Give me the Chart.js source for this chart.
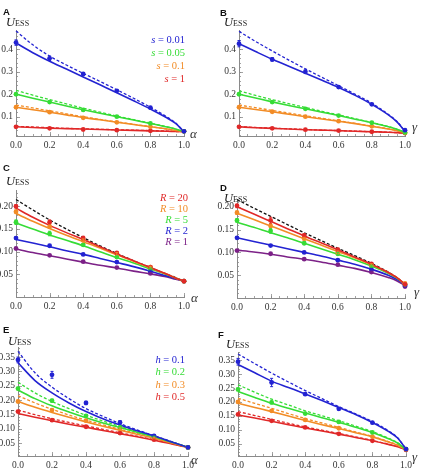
<!DOCTYPE html>
<html>
<head>
<meta charset="utf-8">
<script src="https://cdn.jsdelivr.net/npm/chart.js@4.4.1/dist/chart.umd.min.js"></script>
<style>
  body { margin: 0; background: #fff; width: 426px; height: 473px; position: relative; overflow: hidden; }
  canvas { position: absolute; }
  .t { position: absolute; white-space: nowrap; line-height: 1; font-family: 'Liberation Serif', serif; color: #222; }
  .tag { font: bold 9.5px 'Liberation Sans', Arial, sans-serif; color: #111; }
  .u { font-size: 12.5px; font-style: italic; }
  .u span { font-style: normal; font-size: 8px; letter-spacing: 0.2px; }
  .v { font-size: 13px; font-style: italic; color: #333; }
  .leg { position: absolute; text-align: right; font-family: 'Liberation Serif', serif; font-size: 10.5px; white-space: nowrap; }
</style>
</head>
<body>
<canvas id="cA" width="213" height="158" style="left:0;top:0"></canvas>
<canvas id="cB" width="213" height="158" style="left:213px;top:0"></canvas>
<canvas id="cC" width="213" height="158" style="left:0;top:158px"></canvas>
<canvas id="cD" width="213" height="158" style="left:213px;top:158px"></canvas>
<canvas id="cE" width="213" height="157" style="left:0;top:316px"></canvas>
<canvas id="cF" width="213" height="157" style="left:213px;top:316px"></canvas>

<div class="t tag" style="left:3px;top:6px">A</div>
<div class="t tag" style="left:220px;top:7px">B</div>
<div class="t tag" style="left:3px;top:162px">C</div>
<div class="t tag" style="left:220px;top:182px">D</div>
<div class="t tag" style="left:3px;top:324px">E</div>
<div class="t tag" style="left:218px;top:329px">F</div>

<div class="t u" style="left:6px;top:16px">U<span>ESS</span></div>
<div class="t u" style="left:224px;top:16px">U<span>ESS</span></div>
<div class="t u" style="left:6px;top:175px">U<span>ESS</span></div>
<div class="t u" style="left:224px;top:192px">U<span>ESS</span></div>
<div class="t u" style="left:8px;top:335px">U<span>ESS</span></div>
<div class="t u" style="left:226px;top:338px">U<span>ESS</span></div>

<div class="t v" style="left:190px;top:127px">α</div>
<div class="t v" style="left:412px;top:120px">γ</div>
<div class="t v" style="left:191px;top:291px">α</div>
<div class="t v" style="left:414px;top:285px">γ</div>
<div class="t v" style="left:191px;top:453px">α</div>
<div class="t v" style="left:412px;top:450px">γ</div>

<div class="leg" id="legA" style="right:241px;top:33px;line-height:13px"></div>
<div class="leg" id="legC" style="right:238px;top:192px;line-height:11px"></div>
<div class="leg" id="legE" style="right:241px;top:354px;line-height:12.3px"></div>

<script>
'use strict';
// ---------- data ----------
const xCurve = [0, 0.1, 0.2, 0.3, 0.4, 0.5, 0.6, 0.7, 0.8, 0.9, 0.95, 1];
const xDots  = [0, 0.2, 0.4, 0.6, 0.8, 1];
const xTickVals = [0, 0.2, 0.4, 0.6, 0.8, 1];
const yTicksAB = [0.1, 0.2, 0.3, 0.4];
const yTicksCD = [0.05, 0.10, 0.15, 0.20];
const yTicksEF = [0.05, 0.10, 0.15, 0.20, 0.25, 0.30, 0.35];

const BLUE = '#2323d2', GREEN = '#36dc36', ORANGE = '#f28c26', RED = '#e02828', PURPLE = '#7c2187', BLACK = '#111';
const sColors = [BLUE, GREEN, ORANGE, RED];
const rColors = [RED, ORANGE, GREEN, BLUE, PURPLE];
const hColors = [BLUE, GREEN, ORANGE, RED];
const sVals = ['0.01', '0.05', '0.1', '1'];
const rVals = ['20', '10', '5', '2', '1'];
const hVals = ['0.1', '0.2', '0.3', '0.5'];

// A: U_ESS vs alpha, series s
const aSolid = [
  [0.428, 0.385, 0.347, 0.312, 0.277, 0.242, 0.207, 0.171, 0.134, 0.094, 0.070, 0.033],
  [0.200, 0.182, 0.165, 0.148, 0.131, 0.115, 0.100, 0.085, 0.070, 0.054, 0.045, 0.033],
  [0.142, 0.131, 0.120, 0.108, 0.096, 0.086, 0.075, 0.065, 0.055, 0.045, 0.039, 0.033],
  [0.055, 0.052, 0.049, 0.047, 0.045, 0.043, 0.041, 0.039, 0.037, 0.035, 0.034, 0.033],
];
const aDashed = [
  [0.482, 0.420, 0.370, 0.330, 0.293, 0.257, 0.220, 0.182, 0.142, 0.098, 0.072, 0.033],
  [0.217, 0.196, 0.176, 0.157, 0.138, 0.120, 0.103, 0.087, 0.071, 0.055, 0.045, 0.033],
  [0.152, 0.139, 0.126, 0.113, 0.100, 0.088, 0.077, 0.066, 0.056, 0.045, 0.039, 0.033],
  [0.057, 0.054, 0.051, 0.048, 0.046, 0.044, 0.042, 0.040, 0.038, 0.036, 0.034, 0.033],
];
const aDots = [
  [0.430, 0.360, 0.290, 0.215, 0.140, 0.035],
  [0.200, 0.165, 0.130, 0.100, 0.070, 0.035],
  [0.142, 0.120, 0.095, 0.075, 0.055, 0.035],
  [0.055, 0.048, 0.043, 0.040, 0.037, 0.035],
];
const aErr = [
  [0.012, 0.010, 0.006, 0.005, 0.005, 0.004],
  [0.004, 0.004, 0.003, 0.003, 0.003, 0],
  [0.003, 0.003, 0.003, 0.002, 0.002, 0],
  [0, 0, 0, 0, 0, 0],
];

// B: U_ESS vs gamma, series s
const bSolid = [
  [0.425, 0.390, 0.356, 0.325, 0.293, 0.262, 0.230, 0.195, 0.155, 0.108, 0.078, 0.035],
  [0.200, 0.183, 0.166, 0.150, 0.135, 0.120, 0.105, 0.089, 0.073, 0.055, 0.044, 0.030],
  [0.142, 0.132, 0.122, 0.111, 0.100, 0.090, 0.080, 0.069, 0.057, 0.045, 0.038, 0.028],
  [0.055, 0.051, 0.048, 0.045, 0.042, 0.040, 0.038, 0.035, 0.033, 0.031, 0.029, 0.027],
];
const bDashed = [
  [0.480, 0.435, 0.393, 0.352, 0.313, 0.275, 0.238, 0.200, 0.160, 0.110, 0.080, 0.035],
  [0.215, 0.195, 0.176, 0.158, 0.141, 0.124, 0.108, 0.091, 0.074, 0.056, 0.045, 0.030],
  [0.152, 0.140, 0.128, 0.116, 0.104, 0.093, 0.082, 0.070, 0.058, 0.046, 0.038, 0.028],
  [0.056, 0.052, 0.049, 0.046, 0.043, 0.040, 0.038, 0.036, 0.033, 0.031, 0.029, 0.027],
];
const bDots = [
  [0.425, 0.355, 0.300, 0.232, 0.155, 0.040],
  [0.200, 0.165, 0.135, 0.105, 0.073, 0.030],
  [0.142, 0.122, 0.100, 0.080, 0.057, 0.028],
  [0.055, 0.048, 0.042, 0.038, 0.033, 0.027],
];
const bErr = [
  [0.014, 0.008, 0.008, 0.005, 0.004, 0.004],
  [0.004, 0.004, 0.003, 0.003, 0.003, 0],
  [0.003, 0.003, 0.003, 0.002, 0.002, 0],
  [0, 0, 0, 0, 0, 0],
];

// C: U_ESS vs alpha, series R, plus black dashed limit
const cLimit = [0.215, 0.192, 0.170, 0.150, 0.131, 0.113, 0.096, 0.080, 0.065, 0.050, 0.043, 0.035];
const cSolid = [
  [0.196, 0.176, 0.158, 0.142, 0.127, 0.111, 0.095, 0.080, 0.065, 0.050, 0.042, 0.035],
  [0.184, 0.167, 0.151, 0.136, 0.122, 0.108, 0.093, 0.079, 0.064, 0.050, 0.042, 0.035],
  [0.163, 0.150, 0.137, 0.125, 0.113, 0.100, 0.087, 0.075, 0.062, 0.049, 0.042, 0.035],
  [0.127, 0.119, 0.111, 0.102, 0.094, 0.085, 0.076, 0.067, 0.057, 0.046, 0.041, 0.035],
  [0.106, 0.098, 0.091, 0.084, 0.077, 0.070, 0.064, 0.057, 0.051, 0.044, 0.039, 0.035],
];
const cDots = [
  [0.200, 0.165, 0.130, 0.097, 0.066, 0.035],
  [0.188, 0.155, 0.125, 0.095, 0.066, 0.035],
  [0.165, 0.140, 0.115, 0.088, 0.062, 0.035],
  [0.130, 0.113, 0.094, 0.077, 0.057, 0.035],
  [0.107, 0.092, 0.078, 0.065, 0.052, 0.035],
];
const cErr = [
  [0.004, 0.005, 0.004, 0.003, 0.002, 0],
  [0.004, 0.004, 0.003, 0.003, 0.002, 0],
  [0.005, 0.005, 0.003, 0.003, 0.002, 0],
  [0.003, 0.002, 0.002, 0.002, 0.002, 0],
  [0.002, 0.002, 0.002, 0.002, 0.002, 0],
];

// D: U_ESS vs gamma, series R, plus black dashed limit
const dLimit = [0.216, 0.197, 0.179, 0.161, 0.143, 0.126, 0.109, 0.093, 0.076, 0.057, 0.045, 0.030];
const dSolid = [
  [0.200, 0.184, 0.168, 0.152, 0.136, 0.121, 0.106, 0.090, 0.074, 0.056, 0.045, 0.030],
  [0.186, 0.172, 0.158, 0.144, 0.130, 0.116, 0.102, 0.088, 0.073, 0.056, 0.045, 0.030],
  [0.166, 0.155, 0.143, 0.132, 0.120, 0.108, 0.096, 0.084, 0.070, 0.054, 0.044, 0.030],
  [0.132, 0.124, 0.116, 0.108, 0.100, 0.092, 0.083, 0.074, 0.063, 0.050, 0.041, 0.030],
  [0.105, 0.101, 0.096, 0.090, 0.085, 0.079, 0.072, 0.065, 0.056, 0.045, 0.038, 0.027],
];
const dDots = [
  [0.202, 0.170, 0.137, 0.106, 0.075, 0.030],
  [0.187, 0.158, 0.130, 0.100, 0.073, 0.032],
  [0.170, 0.147, 0.120, 0.097, 0.070, 0.030],
  [0.132, 0.115, 0.100, 0.083, 0.063, 0.028],
  [0.104, 0.097, 0.085, 0.073, 0.057, 0.025],
];
const dErr = [
  [0.004, 0.007, 0.004, 0.003, 0.002, 0],
  [0.004, 0.004, 0.003, 0.003, 0.002, 0],
  [0.004, 0.005, 0.003, 0.003, 0.002, 0],
  [0.002, 0.002, 0.002, 0.002, 0.002, 0],
  [0.002, 0.002, 0.002, 0.002, 0.002, 0],
];

// E: U_ESS vs alpha, series h
const eSolid = [
  [0.330, 0.268, 0.225, 0.190, 0.160, 0.135, 0.113, 0.093, 0.075, 0.055, 0.045, 0.035],
  [0.235, 0.205, 0.180, 0.158, 0.138, 0.120, 0.104, 0.088, 0.072, 0.054, 0.045, 0.035],
  [0.195, 0.175, 0.157, 0.140, 0.124, 0.109, 0.095, 0.081, 0.067, 0.051, 0.043, 0.035],
  [0.153, 0.140, 0.128, 0.116, 0.105, 0.094, 0.083, 0.072, 0.060, 0.048, 0.041, 0.035],
];
const eDashed = [
  [0.370, 0.295, 0.245, 0.205, 0.170, 0.143, 0.118, 0.096, 0.076, 0.056, 0.045, 0.035],
  [0.262, 0.225, 0.195, 0.170, 0.147, 0.127, 0.108, 0.090, 0.073, 0.054, 0.045, 0.035],
  [0.215, 0.190, 0.168, 0.148, 0.130, 0.114, 0.098, 0.083, 0.068, 0.052, 0.043, 0.035],
  [0.165, 0.149, 0.135, 0.122, 0.110, 0.098, 0.086, 0.074, 0.062, 0.049, 0.042, 0.035],
];
const eDots = [
  [0.340, 0.288, 0.190, 0.122, 0.075, 0.035],
  [0.240, 0.198, 0.145, 0.105, 0.072, 0.035],
  [0.195, 0.165, 0.128, 0.100, 0.068, 0.035],
  [0.160, 0.130, 0.107, 0.085, 0.062, 0.035],
];
const eErr = [
  [0.010, 0.012, 0.006, 0.006, 0.004, 0],
  [0.005, 0.005, 0.004, 0.003, 0.002, 0],
  [0.004, 0.004, 0.003, 0.003, 0.002, 0],
  [0.004, 0.003, 0.003, 0.002, 0.002, 0],
];

// F: U_ESS vs gamma, series h
const fSolid = [
  [0.335, 0.305, 0.275, 0.252, 0.229, 0.205, 0.180, 0.155, 0.126, 0.092, 0.070, 0.030],
  [0.238, 0.216, 0.195, 0.177, 0.160, 0.143, 0.127, 0.109, 0.090, 0.066, 0.052, 0.028],
  [0.195, 0.180, 0.165, 0.149, 0.133, 0.118, 0.104, 0.089, 0.074, 0.055, 0.044, 0.028],
  [0.153, 0.142, 0.130, 0.118, 0.106, 0.095, 0.084, 0.072, 0.060, 0.046, 0.038, 0.027],
];
const fDashed = [
  [0.373, 0.338, 0.304, 0.272, 0.241, 0.212, 0.183, 0.157, 0.129, 0.094, 0.071, 0.030],
  [0.262, 0.235, 0.210, 0.189, 0.168, 0.150, 0.132, 0.113, 0.093, 0.068, 0.053, 0.028],
  [0.213, 0.195, 0.177, 0.158, 0.140, 0.124, 0.108, 0.092, 0.076, 0.056, 0.045, 0.028],
  [0.165, 0.151, 0.137, 0.123, 0.110, 0.098, 0.086, 0.074, 0.061, 0.047, 0.039, 0.027],
];
const fDots = [
  [0.345, 0.270, 0.228, 0.175, 0.125, 0.030],
  [0.245, 0.198, 0.158, 0.128, 0.090, 0.030],
  [0.200, 0.168, 0.135, 0.105, 0.075, 0.030],
  [0.155, 0.132, 0.108, 0.085, 0.060, 0.027],
];
const fErr = [
  [0.012, 0.015, 0.005, 0.005, 0.004, 0],
  [0.005, 0.005, 0.004, 0.003, 0.002, 0],
  [0.004, 0.004, 0.003, 0.003, 0.002, 0],
  [0.003, 0.003, 0.002, 0.002, 0.002, 0],
];

// ---------- helpers ----------
function pts(xs, ys) { return xs.map((x, i) => ({ x, y: ys[i] })); }

function curve(ys, color, dashed) {
  return {
    data: pts(xCurve, ys),
    showLine: true,
    borderColor: color,
    borderWidth: dashed ? 1.3 : 1.6,
    borderDash: dashed ? [3, 2] : [],
    pointRadius: 0,
    cubicInterpolationMode: 'monotone',
    clip: false,
    order: 2,
  };
}

function dots(ys, errs, color) {
  return {
    data: pts(xDots, ys),
    showLine: false,
    pointRadius: 2.4,
    pointBorderWidth: 0,
    pointBackgroundColor: color,
    errs: errs,
    clip: false,
    order: 0,
  };
}

function tickRange(from, to, step) {
  const out = [];
  for (let v = from; v <= to + 1e-9; v += step) out.push(+v.toFixed(4));
  return out;
}

// Mathematica-style ticks: drawn inward from the axes
const innerTicks = {
  id: 'innerTicks',
  beforeDatasetsDraw(chart, args, o) {
    const { ctx, chartArea: a, scales: { x, y } } = chart;
    ctx.save();
    ctx.strokeStyle = '#8a8a8a';
    ctx.lineWidth = 0.8;
    ctx.beginPath();
    const tick = (axis, v, len) => {
      if (axis === 'x') {
        const p = Math.round(x.getPixelForValue(v)) + 0.5;
        ctx.moveTo(p, a.bottom); ctx.lineTo(p, a.bottom - len);
      } else {
        const p = Math.round(y.getPixelForValue(v)) + 0.5;
        ctx.moveTo(a.left, p); ctx.lineTo(a.left + len, p);
      }
    };
    o.xMinor.forEach(v => tick('x', v, 2));
    xTickVals.forEach(v => tick('x', v, 4));
    o.yMinor.forEach(v => { if (v >= y.min && v <= y.max) tick('y', v, 2); });
    o.yMajor.forEach(v => tick('y', v, 4));
    ctx.stroke();
    ctx.restore();
  }
};

const errBars = {
  id: 'errBars',
  afterDatasetsDraw(chart) {
    const { ctx, scales: { x, y } } = chart;
    chart.data.datasets.forEach(ds => {
      if (!ds.errs) return;
      ctx.save();
      ctx.strokeStyle = ds.pointBackgroundColor;
      ctx.lineWidth = 1;
      ds.data.forEach((p, i) => {
        const e = ds.errs[i];
        if (!e) return;
        const px = x.getPixelForValue(p.x);
        const y1 = y.getPixelForValue(p.y - e), y2 = y.getPixelForValue(p.y + e);
        ctx.beginPath();
        ctx.moveTo(px, y1); ctx.lineTo(px, y2);
        ctx.moveTo(px - 1.5, y1); ctx.lineTo(px + 1.5, y1);
        ctx.moveTo(px - 1.5, y2); ctx.lineTo(px + 1.5, y2);
        ctx.stroke();
      });
      ctx.restore();
    });
  }
};

// box: canvas origin/size and the plot area, all in page px
function makePanel(id, box, yMin, yMax, yTicks, yDec, yMinorStep, datasets) {
  const tickFont = { family: "'Liberation Serif', serif", size: 9.5 };
  return new Chart(document.getElementById(id), {
    type: 'scatter',
    data: { datasets },
    plugins: [innerTicks, errBars],
    options: {
      responsive: false,
      animation: false,
      events: [],
      layout: { padding: { left: 0, top: box.t - box.cy, right: box.cx + box.cw - box.r, bottom: 0 } },
      plugins: {
        legend: { display: false },
        tooltip: { enabled: false },
        innerTicks: { xMinor: tickRange(0, 1, 0.05), yMajor: yTicks, yMinor: tickRange(0, 0.5, yMinorStep) },
      },
      scales: {
        x: {
          type: 'linear', min: 0, max: 1,
          grid: { display: false, drawTicks: false },
          border: { display: true, color: '#8a8a8a', width: 1 },
          afterBuildTicks: s => { s.ticks = xTickVals.map(v => ({ value: v })); },
          afterFit: s => { s.height = box.cy + box.ch - box.b; },
          ticks: { font: tickFont, color: '#333', padding: 4, maxRotation: 0, autoSkip: false,
                   callback: v => v.toFixed(1) },
        },
        y: {
          type: 'linear', min: yMin, max: yMax,
          grid: { display: false, drawTicks: false },
          border: { display: true, color: '#8a8a8a', width: 1 },
          afterBuildTicks: s => { s.ticks = yTicks.map(v => ({ value: v })); },
          afterFit: s => { s.width = box.l - box.cx; },
          ticks: { font: tickFont, color: '#333', padding: 3, autoSkip: false,
                   callback: v => v.toFixed(yDec) },
        },
      },
    },
  });
}

function sets(solid, dashed, dotVals, errs, colors, limit) {
  const out = [];
  dotVals.forEach((d, i) => out.push(dots(d, errs[i], colors[i])));
  solid.forEach((s, i) => out.push(curve(s, colors[i], false)));
  if (dashed) dashed.forEach((s, i) => out.push(curve(s, colors[i], true)));
  if (limit) out.push(curve(limit, BLACK, true));
  return out;
}

makePanel('cA', { cx: 0, cy: 0, cw: 213, ch: 158, l: 16, r: 184, t: 30, b: 136 },
  0.014, 0.486, yTicksAB, 1, 0.02, sets(aSolid, aDashed, aDots, aErr, sColors));
makePanel('cB', { cx: 213, cy: 0, cw: 213, ch: 158, l: 239, r: 405, t: 30, b: 136 },
  0.014, 0.486, yTicksAB, 1, 0.02, sets(bSolid, bDashed, bDots, bErr, sColors));
makePanel('cC', { cx: 0, cy: 158, cw: 213, ch: 158, l: 16, r: 184, t: 190, b: 297 },
  0, 0.236, yTicksCD, 2, 0.01, sets(cSolid, null, cDots, cErr, rColors, cLimit));
makePanel('cD', { cx: 213, cy: 158, cw: 213, ch: 158, l: 237, r: 405, t: 199, b: 298 },
  0, 0.217, yTicksCD, 2, 0.01, sets(dSolid, null, dDots, dErr, rColors, dLimit));
makePanel('cE', { cx: 0, cy: 316, cw: 213, ch: 157, l: 18, r: 188, t: 347, b: 456 },
  0.005, 0.385, yTicksEF, 2, 0.01, sets(eSolid, eDashed, eDots, eErr, hColors));
makePanel('cF', { cx: 213, cy: 316, cw: 213, ch: 157, l: 238, r: 406, t: 352, b: 456 },
  0.005, 0.38, yTicksEF, 2, 0.01, sets(fSolid, fDashed, fDots, fErr, hColors));

// legends
function legend(id, name, vals, colors) {
  document.getElementById(id).innerHTML = vals
    .map((v, i) => `<div style="color:${colors[i]}"><i>${name}</i> = ${v}</div>`).join('');
}
legend('legA', 's', sVals, sColors);
legend('legC', 'R', rVals, rColors);
legend('legE', 'h', hVals, hColors);
</script>
</body>
</html>
